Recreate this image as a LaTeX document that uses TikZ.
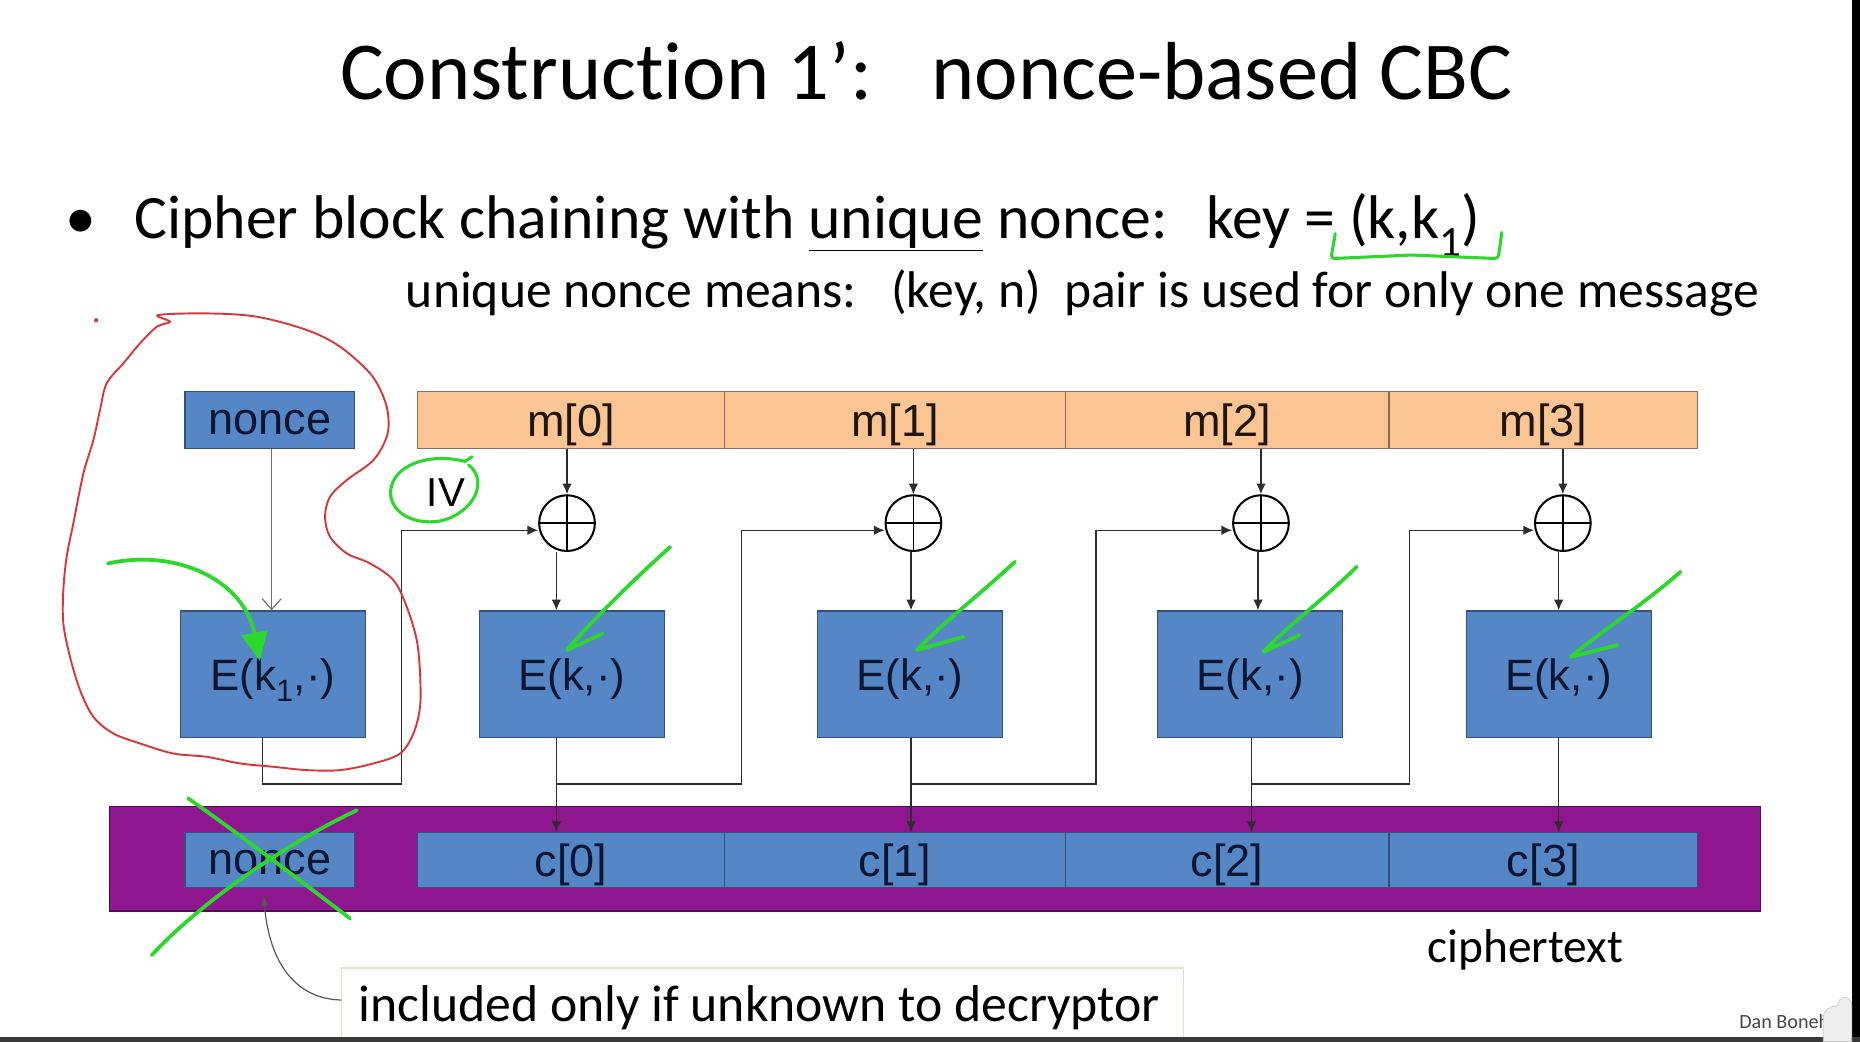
\documentclass[tikz,border=0pt]{standalone}
\usepackage{fontspec}
\setmainfont[Ligatures=NoCommon]{Carlito}
\newfontfamily\arialf{Liberation Sans}
\usetikzlibrary{arrows.meta,calc}

\definecolor{boxblue}{RGB}{85,134,198}
\definecolor{boxedge}{RGB}{50,82,125}
\definecolor{navy}{RGB}{12,22,50}
\definecolor{morange}{RGB}{250,197,146}
\definecolor{moedge}{RGB}{140,108,85}
\definecolor{cpurple}{RGB}{142,22,142}
\definecolor{cpedge}{RGB}{80,10,80}
\definecolor{lineg}{RGB}{45,45,45}
\definecolor{hgreen}{RGB}{45,215,45}
\definecolor{hred}{RGB}{215,55,55}
\definecolor{calledge}{RGB}{225,225,200}

\begin{document}
\begin{tikzpicture}[x=1pt,y=-1pt,
  blk/.style={rectangle, draw=boxedge, line width=1pt, fill=boxblue, text=navy, inner sep=0pt},
  ebox/.style={blk, minimum width=156pt, minimum height=107pt, text depth=-3pt, font=\arialf\fontsize{37}{40}\selectfont},
  mseg/.style={rectangle, draw=moedge, line width=1pt, fill=morange, text={rgb,255:red,30;green,22;blue,15}, inner sep=0pt, minimum height=48pt, text depth=0pt, font=\arialf\fontsize{38}{40}\selectfont},
  cseg/.style={blk, minimum height=46pt, text depth=0pt, font=\arialf\fontsize{38}{40}\selectfont},
  xorc/.style={circle, draw=black, line width=1.7pt, minimum size=47pt, inner sep=0pt,
    path picture={\draw[line width=1.5pt] (path picture bounding box.north) -- (path picture bounding box.south)
      (path picture bounding box.west) -- (path picture bounding box.east);}},
  conn/.style={draw=lineg, line width=1.1pt},
  tip/.style={-{Latex[length=9pt,width=8pt]}},
  hand/.style={draw=hgreen, line width=3.2pt, line cap=round, line join=round},
  slide/.style={font=\fontsize{#1}{#1}\selectfont, inner sep=0pt}
]
\useasboundingbox (0,0) rectangle (1568,878);
\clip (0,0) rectangle (1568,878);
\fill[white] (0,0) rectangle (1568,878);

% ---- slide text ----
\node[slide=69.4, anchor=base] (title) at (781,84) {Construction 1’:\hspace{0.72em}nonce-based CBC};
\node[slide=52, anchor=base west] (bul) at (55,201) {•};
\node[slide=52, anchor=base west] (line1) at (113,201) {Cipher block chaining with \underline{unique} nonce:\hspace{0.62em}key = (k,k\textsubscript{1})};
\node[slide=43.5, anchor=base west] (line2) at (342,259) {unique nonce means:\hspace{0.67em}(key, n)\hspace{0.22em} pair is used for only one message};

% ---- top row ----
\node[blk, minimum width=143pt, minimum height=48pt, text height=24pt, text depth=0pt, font=\arialf\fontsize{38}{40}\selectfont] (nonceT) at (227.5,354) {nonce};
\node[mseg, minimum width=259pt] (m0) at (481.5,354) {m[0]};
\node[mseg, minimum width=287pt] (m1) at (754.5,354) {m[1]};
\node[mseg, minimum width=273pt] (m2) at (1034.5,354) {m[2]};
\node[mseg, minimum width=260pt] (m3) at (1301,354) {m[3]};

% ---- xor ----
\node[xorc] (x0) at (478,441) {};
\node[xorc] (x1) at (770,441) {};
\node[xorc] (x2) at (1063,441) {};
\node[xorc] (x3) at (1317.5,441) {};

% ---- E boxes ----
\node[ebox] (Ek1) at (230,568.5) {E(k\textsubscript{1},·)};
\node[ebox] (E0) at (482,568.5) {E(k,·)};
\node[ebox] (E1) at (767,568.5) {E(k,·)};
\node[ebox] (E2) at (1054,568.5) {E(k,·)};
\node[ebox] (E3) at (1314,568.5) {E(k,·)};

\node[inner sep=0pt, font=\arialf\fontsize{34}{36}\selectfont] (iv) at (376,415) {IV};

% ---- ciphertext bar ----
\node[rectangle, draw=cpedge, line width=1pt, fill=cpurple, minimum width=1392pt, minimum height=88pt, inner sep=0pt] (cbar) at (788,724) {};
\node[cseg, minimum width=143pt, text height=24pt] (nonceB) at (227.5,725) {nonce};
\node[cseg, minimum width=259pt] (c0) at (481.5,725) {c[0]};
\node[cseg, minimum width=287pt] (c1) at (754.5,725) {c[1]};
\node[cseg, minimum width=273pt] (c2) at (1034.5,725) {c[2]};
\node[cseg, minimum width=260pt] (c3) at (1301,725) {c[3]};

\node[slide=40, anchor=base west] (ctext) at (1203,811) {ciphertext};

% ---- connectors ----
\draw[draw={rgb,255:red,110;green,110;blue,110}, line width=1pt, -{Straight Barb[length=9pt,width=16pt]}] ([xshift=1.5pt]nonceT.south) -- ([xshift=1.5pt]nonceT.south |- Ek1.north);

\foreach \i in {0,1,2,3} {
  \draw[conn,tip] (x\i |- m\i.south) -- (x\i.north);
}
\draw[conn,tip] ([xshift=-9pt]x0.south) -- ([xshift=-9pt]x0.south |- E0.north);
\draw[conn,tip] ([xshift=-2pt]x1.south) -- ([xshift=-2pt]x1.south |- E1.north);
\draw[conn,tip] ([xshift=-2.5pt]x2.south) -- ([xshift=-2.5pt]x2.south |- E2.north);
\draw[conn,tip] ([xshift=-3.5pt]x3.south) -- ([xshift=-3.5pt]x3.south |- E3.north);

\draw[conn,tip] ([xshift=-13pt]E0.south) -- ([xshift=-13pt]E0.south |- c0.north);
\draw[conn,tip] ([xshift=1pt]E1.south) -- ([xshift=1pt]E1.south |- c1.north);
\draw[conn,tip] ([xshift=1pt]E2.south) -- ([xshift=1pt]E2.south |- c2.north);
\draw[conn,tip] (E3.south) -- (E3.south |- c3.north);

\coordinate (fiv) at (338.7,661);
\coordinate (f0) at (625,661);
\coordinate (f1) at (924,661);
\coordinate (f2) at (1188,661);
\draw[conn,tip] ([xshift=-8.5pt]Ek1.south) |- (fiv) |- ([yshift=-6pt]x0.west);
\draw[conn,tip] ([xshift=-13pt]E0.south) |- (f0) |- ([yshift=-6pt]x1.west);
\draw[conn,tip] ([xshift=1pt]E1.south) |- (f1) |- ([yshift=-6pt]x2.west);
\draw[conn,tip] ([xshift=1pt]E2.south) |- (f2) |- ([yshift=-6pt]x3.west);

% ---- callout ----
\node[rectangle, draw=calledge, line width=1pt, fill=white, minimum width=710pt, minimum height=84pt, inner sep=0pt] (callbox) at (643,858) {};
\node[slide=43.6, anchor=base west] (calltext) at (302,861) {included only if unknown to decryptor};
\draw[draw={rgb,255:red,85;green,85;blue,85}, line width=1pt, -{Latex[length=8pt,width=7pt]}]
  ([yshift=15pt]callbox.west) .. controls (245,842) and (226,805) .. ([xshift=-5pt,yshift=-7pt]nonceB.south);

% ---- hand annotations: red loop ----
\draw[hred, line width=1.6pt] plot[smooth cycle, tension=0.55] coordinates {
 (133.5,265.6) (174.3,264.2) (216.4,267) (258.6,278.2) (286.7,292.3) (312,314.8) (323.2,334.5)
 (327.4,351.3) (326,368.2) (314.8,387.9) (292.3,404.7) (278.2,418.8) (274,435.6) (278.2,452.5)
 (292.3,466.5) (312,475) (331.6,489) (342.9,511.5) (351.3,539.6) (354.1,567.7) (354.1,595.9)
 (348.5,618.3) (337.3,635.2) (314.8,643.6) (286.7,649.2) (258.6,649.2) (230.5,646.4) (202.4,643.6)
 (174.3,638) (146.1,635.2) (118,626.7) (95.5,618.3) (78.7,604.3) (67.5,581.8) (59,553.7)
 (53.4,525.6) (53.4,497.5) (56.2,469.4) (61.8,441.3) (70.3,399.1) (78.7,371) (84.3,345.7)
 (89.9,323.2) (104,306.3) (118,289.5) (132.1,275.5) (143.3,271.2)};
\fill[hred] (81,270) circle (1.8pt);

% ---- green annotations ----
\draw[hand, -{Triangle[length=24pt,width=22pt]}] (91,475) .. controls (150,462) and (206,490) .. (219,557);
\draw[hand] (565,461) .. controls (535,488) and (500,522) .. (478,548) -- (508,534);
\draw[hand] (855.6,473.6) .. controls (825,502) and (795,525) .. (773,548) -- (812.5,536.8);
\draw[hand] (1143.8,477.8) .. controls (1115,506) and (1085,528) .. (1065.2,549.5) -- (1095.3,535.4);
\draw[hand] (1416.7,482) .. controls (1385,510) and (1350,532) .. (1324.2,553.7) -- (1363.5,543.8);
\draw[hand] (158.8,673.1) .. controls (200,702) and (250,740) .. (295.1,774.3);
\draw[hand] (300.8,683) .. controls (240,712) and (170,760) .. (127.9,805.2);
\draw[hand, line width=2.6pt] (395,392) .. controls (412,405) and (400,432) .. (372,439)
  .. controls (345,444) and (325,428) .. (330,410) .. controls (335,390) and (365,382) .. (392,389) -- (398,385);
\draw[hand, line width=2.6pt, rounded corners=3pt] (1125.6,197) -- (1122,218) -- (1190,215) -- (1263,218) -- (1266,196);

% ---- frame bits ----
\node[slide=17, anchor=base west, text={rgb,255:red,70;green,70;blue,70}] (author) at (1466,867) {Dan Boneh};
\fill[black] (1561,0) rectangle (1568,878);
\fill[black!78] (0,874.5) rectangle (1568,878);
\filldraw[fill={rgb,255:red,238;green,238;blue,238}, draw={rgb,255:red,200;green,200;blue,200}, line width=0.6pt]
  (1537,878) -- (1537,858) .. controls (1537,851) and (1543,848) .. (1549,848)
  .. controls (1549,843) and (1553,840) .. (1557,841) .. controls (1561,843) and (1561,846) .. (1561,850) -- (1561,878) -- cycle;
\end{tikzpicture}
\end{document}
